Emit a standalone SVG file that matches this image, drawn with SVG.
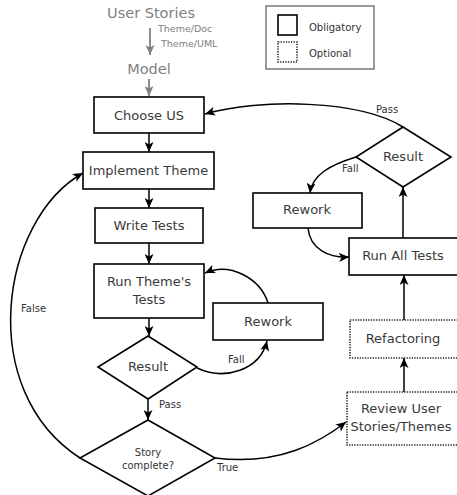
<svg xmlns="http://www.w3.org/2000/svg" width="457" height="495" viewBox="0 0 457 495">
<style>
.box{fill:#fff;stroke:#000;stroke-width:1.6}
.opt{fill:#fff;stroke:#222;stroke-width:1.6;stroke-dasharray:1.3,1.3}
.t{font-family:"DejaVu Sans",sans-serif;font-size:13px;fill:#3a3a3a;text-anchor:middle;dominant-baseline:central}
.s{font-family:"DejaVu Sans",sans-serif;font-size:10px;fill:#333;dominant-baseline:central}
.g{font-family:"DejaVu Sans",sans-serif;fill:#808080;dominant-baseline:central}
.c{fill:none;stroke:#000;stroke-width:1.5}
.cg{fill:none;stroke:#808080;stroke-width:1.8}
</style>
<defs>
<marker id="a" markerUnits="userSpaceOnUse" markerWidth="11" markerHeight="9" refX="10" refY="4.5" orient="auto"><path d="M0,0 L10,4.5 L0,9 L2.5,4.5 z" fill="#000"/></marker>
<marker id="ag" markerUnits="userSpaceOnUse" markerWidth="11" markerHeight="9" refX="10" refY="4.5" orient="auto"><path d="M0,0 L10,4.5 L0,9 L2.5,4.5 z" fill="#808080"/></marker>
</defs>
<g id="legend">
<rect x="266" y="6" width="108" height="63" fill="#fff" stroke="#555" stroke-width="1.2"/>
<rect x="278" y="15" width="19" height="20" class="box"/>
<rect x="278" y="42" width="19" height="20" class="opt"/>
<text x="309" y="27" class="s">Obligatory</text>
<text x="309" y="53" class="s">Optional</text>
</g>
<g id="header">
<text x="151" y="13" class="g" font-size="14.5" text-anchor="middle">User Stories</text>
<text x="158" y="28" class="g" font-size="9.5">Theme/Doc</text>
<text x="161" y="43" class="g" font-size="9.5">Theme/UML</text>
<text x="149" y="69" class="g" font-size="14.5" text-anchor="middle">Model</text>
</g>
<g id="connectors">
<path class="cg" d="M150,28 L150,55" marker-end="url(#ag)"/>
<path class="cg" d="M149,79 L149,96" marker-end="url(#ag)"/>
<path class="c" d="M149,133 L149,152" marker-end="url(#a)"/>
<path class="c" d="M149,189 L149,208" marker-end="url(#a)"/>
<path class="c" d="M149,243 L149,264" marker-end="url(#a)"/>
<path class="c" d="M149,318 L149,336" marker-end="url(#a)"/>
<path class="c" d="M148,399 L148,420" marker-end="url(#a)"/>
<path class="c" d="M197,368 C225,381 260,370 267,341" marker-end="url(#a)"/>
<path class="c" d="M268,303 C260,278 230,262 205,273" marker-end="url(#a)"/>
<path class="c" d="M215,458 C280,466 320,442 346,422" marker-end="url(#a)"/>
<path class="c" d="M80,458 C-25,390 0,220 83,173" marker-end="url(#a)"/>
<path class="c" d="M404,392 L404,358" marker-end="url(#a)"/>
<path class="c" d="M404,320 L404,275" marker-end="url(#a)"/>
<path class="c" d="M403,238 L403,187" marker-end="url(#a)"/>
<path class="c" d="M356,157 C330,165 312,175 310,193" marker-end="url(#a)"/>
<path class="c" d="M308,228 C310,250 330,258 349,257" marker-end="url(#a)"/>
<path class="c" d="M403,127 C360,100 260,98 205,114" marker-end="url(#a)"/>
<text x="159" y="404" class="s">Pass</text>
<text x="228" y="359" class="s">Fall</text>
<text x="217" y="467" class="s">True</text>
<text x="21" y="308" class="s">False</text>
<text x="376" y="109" class="s">Pass</text>
<text x="342" y="168" class="s">Fall</text>
</g>
<g id="choose"><rect x="94" y="97" width="110" height="36" class="box"/><text x="149" y="115" class="t">Choose US</text></g>
<g id="implement"><rect x="83" y="152" width="131" height="37" class="box"/><text x="148.5" y="170.5" class="t">Implement Theme</text></g>
<g id="write"><rect x="95" y="208" width="108" height="35" class="box"/><text x="149" y="225.5" class="t">Write Tests</text></g>
<g id="runtheme"><rect x="94" y="264" width="110" height="54" class="box"/><text x="149" y="281" class="t">Run Theme's</text><text x="149" y="299" class="t">Tests</text></g>
<g id="result1"><polygon points="148,336 197,367 148,399 98,367" class="box"/><text x="148" y="366" class="t">Result</text></g>
<g id="rework1"><rect x="213" y="303" width="110" height="37" class="box"/><text x="268" y="321" class="t">Rework</text></g>
<g id="story"><polygon points="148,420 215,458 148,496 80,458" class="box"/><text x="148" y="452" class="s" text-anchor="middle">Story</text><text x="148" y="465" class="s" text-anchor="middle">complete?</text></g>
<g id="review"><rect x="347" y="392" width="113" height="53" class="opt"/><text x="401" y="408" class="t">Review User</text><text x="401" y="426" class="t">Stories/Themes</text></g>
<g id="refactoring"><rect x="350" y="320" width="110" height="38" class="opt"/><text x="403" y="338" class="t">Refactoring</text></g>
<g id="runall"><rect x="349" y="238" width="111" height="37" class="box"/><text x="403" y="255" class="t">Run All Tests</text></g>
<g id="result2"><polygon points="403,127 451,157 403,187 356,157" class="box"/><text x="403" y="156" class="t">Result</text></g>
<g id="rework2"><rect x="253" y="193" width="109" height="35" class="box"/><text x="307" y="209" class="t">Rework</text></g>
</svg>
